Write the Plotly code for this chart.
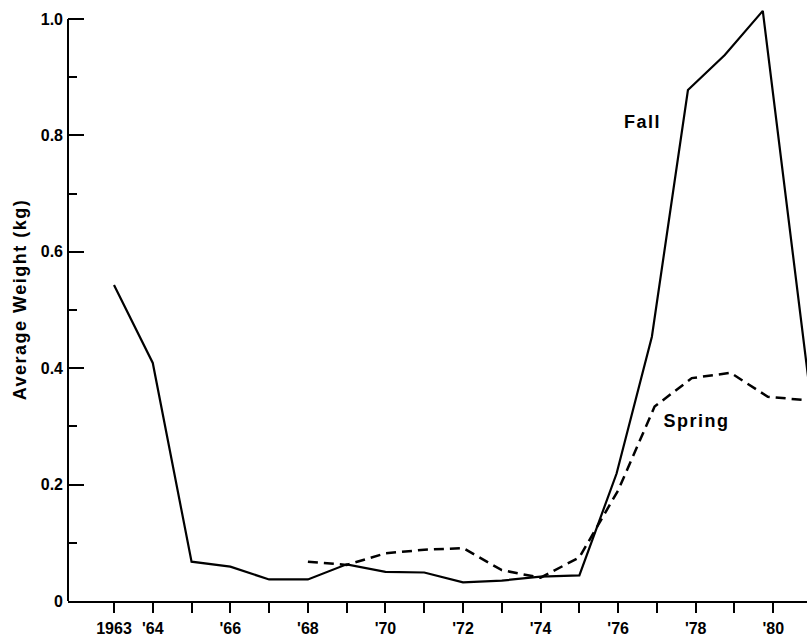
import plotly.graph_objects as go

# ---- data ----
fall_years = [1963, 1964, 1965, 1966, 1967, 1968, 1969, 1970, 1971, 1972, 1973, 1974, 1975,
              1975.96, 1976.87, 1977.8, 1978.75, 1979.73, 1981.0]
fall_weight = [0.543, 0.409, 0.0675, 0.059, 0.037, 0.037, 0.063, 0.050, 0.049, 0.032, 0.035, 0.042, 0.044,
               0.219, 0.454, 0.878, 0.938, 1.014, 0.33]

spring_years = [1968, 1969, 1970, 1971, 1972, 1973, 1974, 1975, 1976, 1976.94, 1977.9, 1978.9, 1979.86, 1981.0]
spring_weight = [0.0675, 0.062, 0.082, 0.088, 0.091, 0.053, 0.040, 0.075, 0.19, 0.334, 0.383, 0.392, 0.351, 0.344]

x_tick_years = list(range(1963, 1981))
x_tick_text = ["1963", "'64", "", "'66", "", "'68", "", "'70", "", "'72", "", "'74", "", "'76", "", "'78", "", "'80"]
y_tick_vals = [0, 0.2, 0.4, 0.6, 0.8, 1.0]
y_tick_text = ["0", "0.2", "0.4", "0.6", "0.8", "1.0"]
y_minor_vals = [0.1, 0.3, 0.5, 0.7, 0.9]

FONT = "Liberation Sans, Arial, Helvetica, sans-serif"

fig = go.Figure()
fig.add_trace(go.Scatter(x=fall_years, y=fall_weight, mode="lines", name="Fall",
                         line=dict(color="black", width=2.2)))
fig.add_trace(go.Scatter(x=spring_years, y=spring_weight, mode="lines", name="Spring",
                         line=dict(color="black", width=2.5, dash="10px,6px")))

fig.update_layout(
    width=807, height=642, autosize=False,
    margin=dict(l=68, r=0, t=2, b=41),
    paper_bgcolor="white", plot_bgcolor="white",
    showlegend=False,
    font=dict(family=FONT, color="black"),
)

fig.update_xaxes(
    range=[1961.814, 1980.87],
    showline=True, linecolor="black", linewidth=2,
    showgrid=False, zeroline=False,
    ticks="outside", ticklen=10, tickwidth=1.6, tickcolor="black",
    tickmode="array", tickvals=x_tick_years, ticktext=x_tick_text,
    tickfont=dict(family=FONT, size=16, weight="bold", color="black"),
    ticklabelstandoff=2,
)
fig.update_yaxes(
    range=[0, 1.0292],
    showline=False, showgrid=False, zeroline=False,
    ticks="inside", ticklen=16, tickwidth=2, tickcolor="black",
    tickmode="array", tickvals=y_tick_vals, ticktext=y_tick_text,
    tickfont=dict(family=FONT, size=16, weight="bold", color="black"),
    minor=dict(tickmode="array", tickvals=y_minor_vals, ticks="inside", ticklen=9,
               tickwidth=1.6, tickcolor="black", showgrid=False),
    ticklabelstandoff=4,
)

# y axis line from 0 to 1.0 only
fig.add_shape(type="line", xref="paper", yref="y", x0=0, x1=0, y0=0, y1=1.0,
              line=dict(color="black", width=2))

fig.add_annotation(text="Average Weight (kg)", xref="paper", yref="paper",
                   x=-0.065, y=0.504, textangle=-90, showarrow=False,
                   xanchor="center", yanchor="middle",
                   font=dict(family=FONT, size=18, weight="bold", color="black"))
fig.add_annotation(text="Fall", x=1976.64, y=0.823, showarrow=False,
                   xanchor="center", yanchor="middle",
                   font=dict(family=FONT, size=18, weight="bold", color="black"))
fig.add_annotation(text="Spring", x=1978.03, y=0.309, showarrow=False,
                   xanchor="center", yanchor="middle",
                   font=dict(family=FONT, size=18, weight="bold", color="black"))

post = """
var gd = document.getElementById('{plot_id}');
function ls(){
  document.querySelectorAll('.annotation-text').forEach(function(e){ e.style.letterSpacing='1.5px'; });
}
ls(); setTimeout(ls, 50); setTimeout(ls, 300);
if (gd && gd.on) { gd.on('plotly_afterplot', ls); }
"""

fig.write_html("out.html", post_script=post)
